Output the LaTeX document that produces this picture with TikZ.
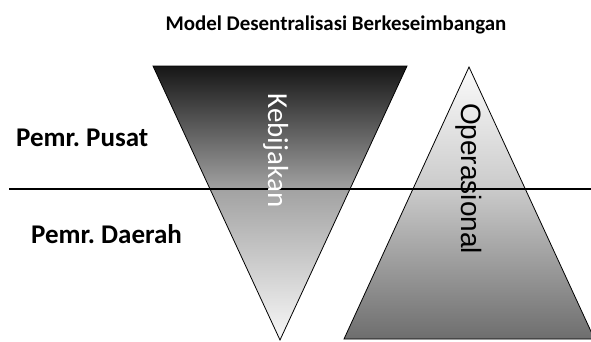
\documentclass[tikz,border=0pt]{standalone}
\usepackage{fontspec}
\setmainfont{Carlito}
\newfontfamily\arialfont{Liberation Sans}
\frenchspacing
\definecolor{kbot}{HTML}{F8F8F8}
\definecolor{kmid}{HTML}{A2A2A2}
\definecolor{ktop}{HTML}{161616}
\definecolor{obot}{HTML}{6E6E6E}
\definecolor{omid}{HTML}{CACACA}
\definecolor{otop}{HTML}{FBFBFB}
\pgfdeclareverticalshading{kebshade}{100bp}{color(0bp)=(kbot); color(25bp)=(kbot); color(52.5bp)=(kmid); color(75bp)=(ktop); color(100bp)=(ktop)}
\pgfdeclareverticalshading{opshade}{100bp}{color(0bp)=(obot); color(25bp)=(obot); color(52.5bp)=(omid); color(75bp)=(otop); color(100bp)=(otop)}
\tikzset{
  tri/.style={draw=black, line width=0.8pt, line join=miter},
  divider/.style={draw=black, line width=2pt},
  sidelabel/.style={font=\fontsize{27}{30}\selectfont\bfseries, inner sep=0pt},
  titlelabel/.style={font=\fontsize{20.9}{24}\selectfont\bfseries, inner sep=0pt},
  keblabel/.style={font=\fontsize{29}{32}\selectfont, text=white, inner sep=0pt, rotate=-90, anchor=base},
  oplabel/.style={font=\arialfont\fontsize{28}{31}\selectfont, text=black, inner sep=0pt, rotate=-90, anchor=base},
}
\begin{document}
\begin{tikzpicture}[x=1pt,y=1pt]
\useasboundingbox (0,0) rectangle (591,341);
\fill[white] (0,0) rectangle (591,341);
% inverted triangle (Kebijakan)
\shade[shading=kebshade, tri] (153,275) -- (407,275) -- (280,1) -- cycle;
% upright triangle (Operasional)
\shade[shading=opshade, tri] (469,274) -- (594.5,2) -- (344,2) -- cycle;
% divider line
\coordinate (lineL) at (9,152);
\coordinate (lineR) at (592,152);
\draw[divider] (lineL) -- (lineR);
% labels
\node[titlelabel, anchor=base] (title) at (336,310) {Model Desentralisasi Berkeseimbangan};
\node[sidelabel, anchor=base west] (pusat) at (16,195) {Pemr. Pusat};
\node[sidelabel, anchor=base west] (daerah) at (31,98) {Pemr. Daerah};
\node[keblabel] (keb) at (268,190.5) {Kebijakan};
\node[oplabel] (op) at (461,162.5) {Operasional};
\end{tikzpicture}
\end{document}
